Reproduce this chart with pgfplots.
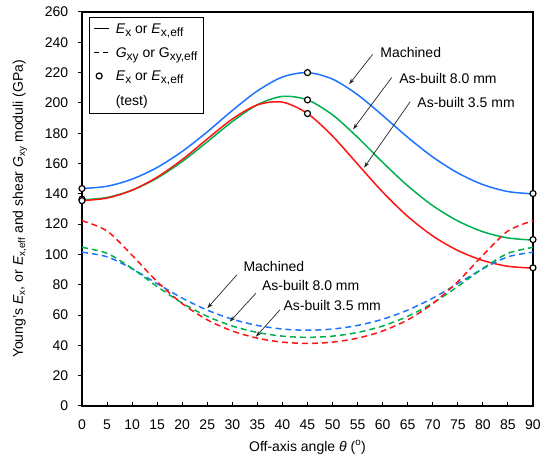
\documentclass[border=0pt]{standalone}
\usepackage{fontspec}
\setmainfont{Liberation Sans}
\usepackage{pgfplots}
\pgfplotsset{compat=1.18}
\usetikzlibrary{arrows.meta}
\definecolor{cblue}{RGB}{30,115,255}
\definecolor{cgreen}{RGB}{0,176,80}
\definecolor{cred}{RGB}{255,20,20}
\newcommand{\fs}{\fontsize{14}{17}\selectfont}
\newcommand{\lsub}[1]{\raisebox{-3pt}{\fontsize{12}{14}\selectfont #1}}
\pgfplotsset{
  lineimg/.style={legend image code/.code={\draw[##1] (0pt,5pt) -- (15pt,5pt);}},
  markimg/.style={legend image code/.code={\draw[##1] plot coordinates {(5pt,5pt)};}},
}
\begin{document}
\fs
\begin{tikzpicture}
\useasboundingbox (-82pt,-56pt) rectangle (460pt,406pt);
\begin{axis}[
 at={(0pt,0pt)}, anchor=south west,
 scale only axis, width=451pt, height=394pt,
 xmin=0, xmax=90, ymin=0, ymax=260,
 xtick={0,5,...,90}, ytick={0,20,...,260},
 xtick align=inside, ytick align=outside,
 xtick pos=bottom, ytick pos=left,
 major tick length=4pt,
 axis line style={line width=1.2pt, black},
 every tick/.style={line width=1pt, black},
 /pgf/number format/assume math mode=true,
 ticklabel style={font=\fs},
 xticklabel style={anchor=base, yshift=-24pt},
 yticklabel style={anchor=east, xshift=-5pt},
 label style={font=\fs},
 xlabel={Off-axis angle \textit{θ} (\textsuperscript{o})},
 xlabel style={at={(axis description cs:0.5,-0.105)}, anchor=center},
 ylabel={Young's \textit{E}\textsubscript{x}, or \textit{E}\textsubscript{x,eff} and shear \textit{G}\textsubscript{xy} moduli (GPa)},
 ylabel style={at={(axis description cs:-0.1375,0.5)}, anchor=center},
 clip=false,
 legend style={at={(axis description cs:0.0155,0.987)}, anchor=north west, draw=black, line width=1.2pt,
   font=\fs, row sep=8pt, column sep=4pt, inner xsep=4pt, inner ysep=4pt,
   cells={anchor=base west}},
]
\addlegendimage{black, line width=1.2pt, lineimg}
\addlegendentry{\textit{E}\lsub{x} or \textit{E}\lsub{x,eff}}
\addlegendimage{black, line width=1.2pt, dash pattern=on 5pt off 4pt, lineimg}
\addlegendentry{\textit{G}\lsub{xy} or G\lsub{xy,eff}}
\addlegendimage{only marks, mark=*, mark size=3pt, mark options={fill=white, draw=black, line width=1.2pt}, markimg}
\addlegendentry{\textit{E}\lsub{x} or \textit{E}\lsub{x,eff}}
\addlegendimage{empty legend}
\addlegendentry{(test)}

% Machined E
\addplot[cblue, line width=1.5pt, smooth] coordinates {
(0,143.5)(5,145.0)(10,149.7)(15,157.4)(20,168.0)(25,180.9)(30,195.0)(35,207.9)(40,217.1)(45,220.0)
(50,215.7)(55,205.4)(60,191.7)(65,177.3)(70,164.3)(75,153.8)(80,146.1)(85,141.5)(90,140.0)};
% As-built 8.0 E
\addplot[cgreen, line width=1.5pt, smooth] coordinates {
(0,136.0)(5,137.6)(10,142.4)(15,150.4)(20,161.3)(25,174.3)(30,187.7)(35,198.8)(40,204.3)(45,202.0)
(50,192.1)(55,177.3)(60,160.8)(65,145.3)(70,132.2)(75,122.1)(80,115.0)(85,110.9)(90,109.5)};
% As-built 3.5 E
\addplot[cred, line width=1.5pt, smooth] coordinates {
(0,135.5)(5,137.2)(10,142.4)(15,151.0)(20,162.6)(25,176.2)(30,189.4)(35,198.7)(40,200.5)(45,193.0)
(50,178.1)(55,159.6)(60,141.2)(65,125.1)(70,112.2)(75,102.6)(80,96.0)(85,92.2)(90,91.0)};
% Machined G
\addplot[cblue, line width=1.5pt, smooth, dash pattern=on 6pt off 4pt] coordinates {
(0,101.5)(5,98.44)(10,90.59)(15,80.72)(20,71.20)(25,63.26)(30,57.26)(35,53.16)(40,50.78)(45,50.0)
(50,50.78)(55,53.16)(60,57.26)(65,63.26)(70,71.20)(75,80.72)(80,90.59)(85,98.44)(90,101.5)};
% As-built 8.0 G
\addplot[cgreen, line width=1.5pt, smooth, dash pattern=on 6pt off 4pt] coordinates {
(0,104.7)(5,100.72)(10,90.78)(15,78.85)(20,67.91)(25,59.17)(30,52.79)(35,48.52)(40,46.09)(45,45.3)
(50,46.09)(55,48.52)(60,52.79)(65,59.17)(70,67.91)(75,78.85)(80,90.78)(85,100.72)(90,104.7)};
% As-built 3.5 G
\addplot[cred, line width=1.5pt, smooth, dash pattern=on 6pt off 4pt] coordinates {
(0,122.3)(5,115.47)(10,99.48)(15,82.06)(20,67.56)(25,56.86)(30,49.50)(35,44.77)(40,42.14)(45,41.3)
(50,42.14)(55,44.77)(60,49.50)(65,56.86)(70,67.56)(75,82.06)(80,99.48)(85,115.47)(90,122.3)};
% test points
\addplot[only marks, mark=*, mark size=3pt, mark options={fill=white, draw=black, line width=1.2pt}] coordinates {
(0,143.5)(0,136.5)(0,135.5)(45,220)(45,202)(45,193)(90,140.2)(90,109.8)(90,91.2)};

% annotations
\draw[-{Stealth[length=6pt,width=4pt]}, line width=0.7pt, black!85] (axis cs:58,232) -- (axis cs:53.3,212.3);
\node[anchor=west, inner sep=0pt, font=\fs] at (axis cs:59.5,233) {Machined};
\draw[-{Stealth[length=6pt,width=4pt]}, line width=0.7pt, black!85] (axis cs:61.8,216.7) -- (axis cs:54.1,182.6);
\node[anchor=west, inner sep=0pt, font=\fs] at (axis cs:63.3,215.8) {As-built 8.0 mm};
\draw[-{Stealth[length=6pt,width=4pt]}, line width=0.7pt, black!85] (axis cs:65.5,200.8) -- (axis cs:56.3,157.3);
\node[anchor=west, inner sep=0pt, font=\fs] at (axis cs:66.9,200.2) {As-built 3.5 mm};

\draw[-{Stealth[length=6pt,width=4pt]}, line width=0.7pt, black!85] (axis cs:30.9,86.5) -- (axis cs:25.0,64.5);
\node[anchor=west, inner sep=0pt, font=\fs] at (axis cs:32.2,91.9) {Machined};
\draw[-{Stealth[length=6pt,width=4pt]}, line width=0.7pt, black!85] (axis cs:34.7,74.4) -- (axis cs:29.5,55.6);
\node[anchor=west, inner sep=0pt, font=\fs] at (axis cs:35.9,79.2) {As-built 8.0 mm};
\draw[-{Stealth[length=6pt,width=4pt]}, line width=0.7pt, black!85] (axis cs:39.5,63.4) -- (axis cs:34.7,45.7);
\node[anchor=west, inner sep=0pt, font=\fs] at (axis cs:40.2,66.2) {As-built 3.5 mm};
\end{axis}
\end{tikzpicture}
\end{document}
